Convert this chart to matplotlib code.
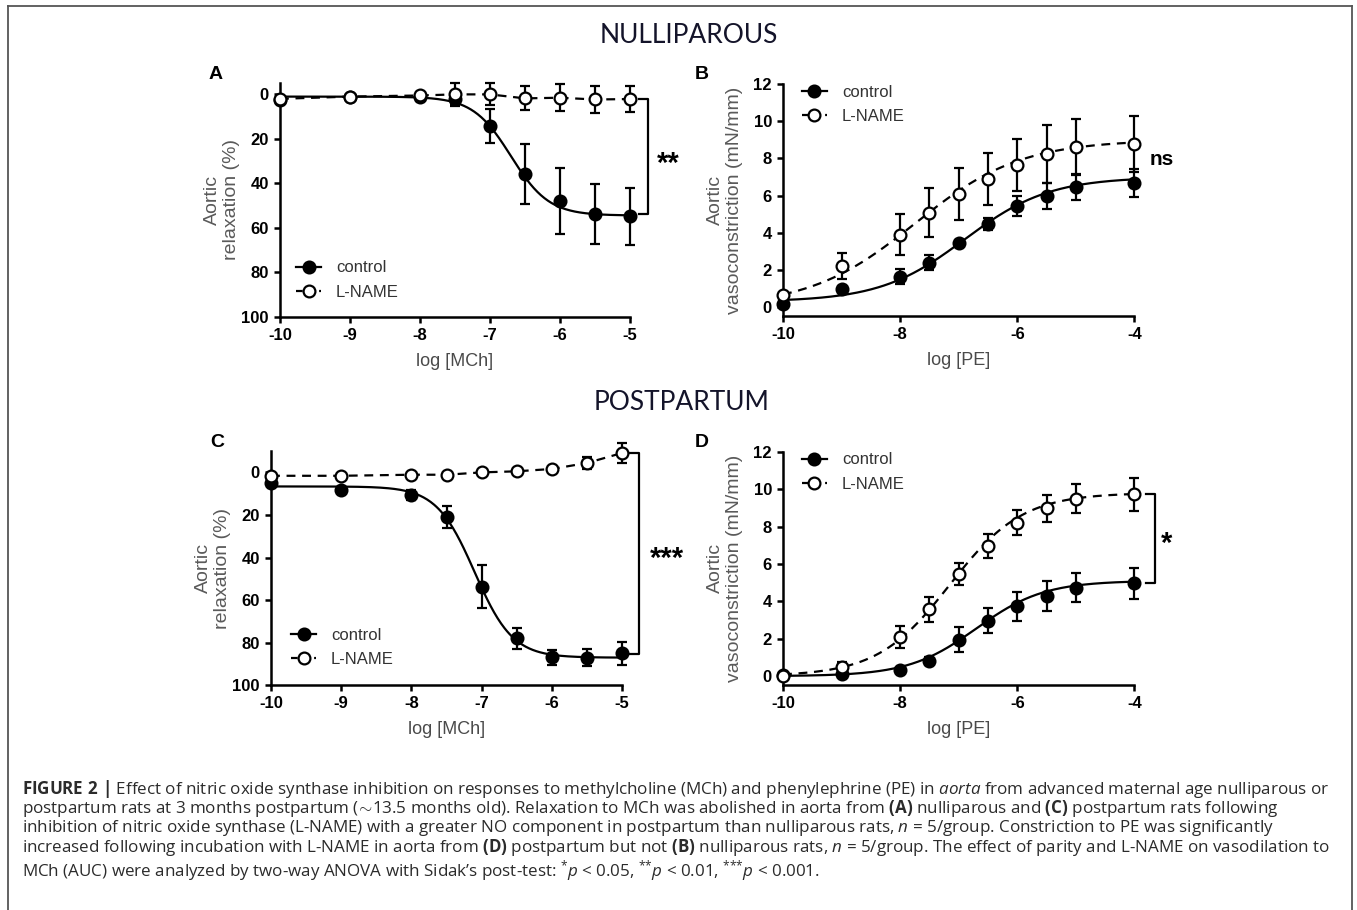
import matplotlib
matplotlib.use("Agg")
import matplotlib.pyplot as plt
import numpy as np
from matplotlib.lines import Line2D

plt.rcParams['font.family'] = ['Liberation Sans', 'DejaVu Sans']
plt.rcParams['mathtext.fontset'] = 'custom'
plt.rcParams['mathtext.rm'] = 'Open Sans'
plt.rcParams['mathtext.it'] = 'Open Sans:italic'
plt.rcParams['mathtext.bf'] = 'Open Sans:bold'
plt.rcParams['axes.unicode_minus'] = False

# log concentrations
mch_dose = [-10, -9, -8, -7.5, -7, -6.5, -6, -5.5, -5]
pe_dose = [-10, -9, -8, -7.5, -7, -6.5, -6, -5.5, -5, -4]

# A: nulliparous, MCh relaxation (%)
a_ctrl = [2.5, 1.0, 1.0, 2.3, 14.1, 35.9, 48.0, 53.8, 54.9]
a_ctrl_err = [0.5, 0.8, 2.0, 3.0, 7.7, 13.6, 14.7, 13.6, 12.8]
a_lname = [2.0, 1.0, 0.5, 0.0, 0.0, 1.8, 1.5, 2.3, 2.1]
a_lname_err = [0.5, 0.5, 1.0, 5.0, 5.0, 5.4, 6.0, 6.0, 6.0]

# B: nulliparous, PE constriction (mN/mm)
b_ctrl = [0.2, 0.97, 1.65, 2.4, 3.44, 4.48, 5.45, 6.0, 6.45, 6.7]
b_ctrl_err = [0.1, 0.2, 0.4, 0.4, 0.2, 0.3, 0.55, 0.7, 0.7, 0.75]
b_lname = [0.66, 2.22, 3.89, 5.09, 6.07, 6.9, 7.67, 8.24, 8.6, 8.76]
b_lname_err = [0.1, 0.7, 1.1, 1.3, 1.4, 1.4, 1.4, 1.55, 1.5, 1.5]

# C: postpartum, MCh relaxation (%)
c_ctrl = [5.0, 8.2, 10.5, 21.0, 53.6, 77.9, 86.8, 87.0, 85.0]
c_ctrl_err = [1.0, 1.0, 2.3, 5.0, 10.0, 5.0, 3.5, 4.0, 5.5]
c_lname = [1.6, 1.6, 1.1, 1.1, 0.0, -0.5, -1.6, -4.4, -9.1]
c_lname_err = [0.5, 0.5, 0.5, 0.5, 0.5, 0.5, 0.8, 2.8, 4.5]

# D: postpartum, PE constriction (mN/mm)
d_ctrl = [0.05, 0.09, 0.32, 0.82, 1.96, 2.96, 3.74, 4.28, 4.74, 4.96]
d_ctrl_err = [0.05, 0.05, 0.1, 0.2, 0.65, 0.67, 0.78, 0.8, 0.8, 0.84]
d_lname = [0.02, 0.5, 2.1, 3.57, 5.46, 6.95, 8.2, 8.97, 9.49, 9.72]
d_lname_err = [0.05, 0.25, 0.57, 0.67, 0.6, 0.65, 0.67, 0.74, 0.78, 0.87]

# sigmoid fit parameters (bottom, top, logEC50, hill)
a_ctrl_fit = (1.0, 54.5, -6.7, 1.6)
b_ctrl_fit = (0.3, 7.0, -6.9, 0.6)
b_lname_fit = (0.0, 9.0, -7.75, 0.48)
c_ctrl_fit = (6.6, 87.0, -7.1, 1.6)
d_ctrl_fit = (0.0, 5.1, -6.7, 0.75)
d_lname_fit = (0.0, 9.8, -7.15, 0.7)

caption = [
    r"$\mathbf{FIGURE\ 2\ |}$ Effect of nitric oxide synthase inhibition on responses to methylcholine (MCh) and phenylephrine (PE) in $\mathit{aorta}$ from advanced maternal age nulliparous or",
    r"postpartum rats at 3 months postpartum ($\!\sim\!$13.5 months old). Relaxation to MCh was abolished in aorta from $\mathbf{(A)}$ nulliparous and $\mathbf{(C)}$ postpartum rats following",
    r"inhibition of nitric oxide synthase (L-NAME) with a greater NO component in postpartum than nulliparous rats, $\mathit{n}$ = 5/group. Constriction to PE was significantly",
    r"increased following incubation with L-NAME in aorta from $\mathbf{(D)}$ postpartum but not $\mathbf{(B)}$ nulliparous rats, $\mathit{n}$ = 5/group. The effect of parity and L-NAME on vasodilation to",
    r"MCh (AUC) were analyzed by two-way ANOVA with Sidak’s post-test: $^{*}\mathit{p}$ < 0.05, $^{{*}{*}}\mathit{p}$ < 0.01, $^{{*}{*}{*}}\mathit{p}$ < 0.001.",
]


def sigmoid(x, p):
    bottom, top, logec50, hill = p
    return bottom + (top - bottom) / (1 + 10 ** ((logec50 - x) * hill))


def points(ax, x, y, err, filled):
    ax.errorbar(x, y, yerr=err, fmt='none', ecolor='black', elinewidth=1.6,
                capsize=3.6, capthick=1.6, zorder=3, clip_on=False)
    ax.plot(x, y, 'o', ms=8.5, mfc='black' if filled else 'white', mec='black',
            mew=1.6, zorder=4, clip_on=False)


def style_axis(ax, xticks, yticks, xlim, ylim, xlabel, ylabel):
    ax.set_xlim(xlim)
    ax.set_ylim(ylim)
    ax.set_xticks(xticks)
    ax.set_xticklabels([str(t) for t in xticks], fontweight='bold', fontsize=12)
    ax.set_yticks(yticks)
    ax.set_yticklabels([str(t) for t in yticks], fontweight='bold', fontsize=12)
    for s in ['top', 'right']:
        ax.spines[s].set_visible(False)
    for s in ['left', 'bottom']:
        ax.spines[s].set_linewidth(1.8)
    ax.tick_params(direction='out', length=4, width=1.8, pad=4)
    ax.set_xlabel(xlabel, fontsize=13, color='#4a4a4a')
    ax.set_ylabel(ylabel, fontsize=14, color='#5a5a5a', linespacing=1.15)
    ax.xaxis.set_label_coords(0.5, -0.19)
    ax.xaxis.label.set_va('center')
    ax.yaxis.set_label_coords(-0.165, 0.5)
    ax.yaxis.label.set_va('center')


def legend(ax, x, y):
    h = [Line2D([], [], color='black', lw=1.6, marker='o', ms=8.5, mfc='black', mew=1.6),
         Line2D([], [], color='black', lw=1.6, ls=(0, (3, 2.2)), marker='o', ms=8.5,
                mfc='white', mew=1.6)]
    lg = ax.legend(h, ['control', 'L-NAME'], loc='center left', bbox_to_anchor=(x, y),
                   frameon=False, fontsize=12, handlelength=1.5, handletextpad=0.9,
                   borderpad=0, borderaxespad=0, labelspacing=0.55)
    for t in lg.get_texts():
        t.set_color('#333333')


def bracket(ax, x, x_arm, y1, y2):
    ax.plot([x_arm, x, x, x_arm], [y1, y1, y2, y2], color='black', lw=1.6, clip_on=False)


fig = plt.figure(figsize=(13.57, 9.10), dpi=100)

ax_a = fig.add_axes([0.2063, 0.652, 0.2579, 0.2565])
ax_b = fig.add_axes([0.5770, 0.6527, 0.2590, 0.2549])
ax_c = fig.add_axes([0.1997, 0.2469, 0.2587, 0.2574])
ax_d = fig.add_axes([0.5770, 0.2473, 0.2590, 0.2563])

dash = (0, (4, 3))

# panel A
xs = np.linspace(-10, -5, 300)
ax_a.plot(xs, sigmoid(xs, a_ctrl_fit), color='black', lw=1.6, zorder=2, clip_on=False)
ax_a.plot(mch_dose, a_lname, color='black', lw=1.6, ls=dash, zorder=2, clip_on=False)
points(ax_a, mch_dose, a_ctrl, a_ctrl_err, True)
points(ax_a, mch_dose, a_lname, a_lname_err, False)
style_axis(ax_a, [-10, -9, -8, -7, -6, -5], [0, 20, 40, 60, 80, 100], (-10, -5), (100, -5),
           'log [MCh]', 'Aortic\nrelaxation (%)')
legend(ax_a, 0.046, 0.157)
bracket(ax_a, -4.74, -4.866, 2.25, 54.0)
ax_a.annotate('**', xy=(-4.45, 28), xytext=(0, -11), textcoords='offset points',
              ha='center', va='baseline', fontsize=21, fontweight='bold', annotation_clip=False)

# panel B
xs = np.linspace(-10, -4, 300)
ax_b.plot(xs, sigmoid(xs, b_ctrl_fit), color='black', lw=1.6, zorder=2, clip_on=False)
ax_b.plot(xs, sigmoid(xs, b_lname_fit), color='black', lw=1.6, ls=dash, zorder=2, clip_on=False)
points(ax_b, pe_dose, b_ctrl, b_ctrl_err, True)
points(ax_b, pe_dose, b_lname, b_lname_err, False)
style_axis(ax_b, [-10, -8, -6, -4], [0, 2, 4, 6, 8, 10, 12], (-10, -4), (-0.47, 12),
           'log [PE]', 'Aortic\nvasoconstriction (mN/mm)')
legend(ax_b, 0.054, 0.913)
ax_b.text(-3.53, 7.92, 'ns', ha='center', va='center', fontsize=15, fontweight='bold',
          clip_on=False)

# panel C
xs = np.linspace(-10, -5, 300)
ax_c.plot(xs, sigmoid(xs, c_ctrl_fit), color='black', lw=1.6, zorder=2, clip_on=False)
ax_c.plot(mch_dose, c_lname, color='black', lw=1.6, ls=dash, zorder=2, clip_on=False)
points(ax_c, mch_dose, c_ctrl, c_ctrl_err, True)
points(ax_c, mch_dose, c_lname, c_lname_err, False)
style_axis(ax_c, [-10, -9, -8, -7, -6, -5], [0, 20, 40, 60, 80, 100], (-10, -5), (100, -10),
           'log [MCh]', 'Aortic\nrelaxation (%)')
legend(ax_c, 0.057, 0.161)
bracket(ax_c, -4.76, -4.89, -9.1, 85.4)
ax_c.annotate('***', xy=(-4.36, 37.2), xytext=(0, -11), textcoords='offset points',
              ha='center', va='baseline', fontsize=21, fontweight='bold', annotation_clip=False)

# panel D
xs = np.linspace(-10, -4, 300)
ax_d.plot(xs, sigmoid(xs, d_ctrl_fit), color='black', lw=1.6, zorder=2, clip_on=False)
ax_d.plot(xs, sigmoid(xs, d_lname_fit), color='black', lw=1.6, ls=dash, zorder=2, clip_on=False)
points(ax_d, pe_dose, d_ctrl, d_ctrl_err, True)
points(ax_d, pe_dose, d_lname, d_lname_err, False)
style_axis(ax_d, [-10, -8, -6, -4], [0, 2, 4, 6, 8, 10, 12], (-10, -4), (-0.47, 12),
           'log [PE]', 'Aortic\nvasoconstriction (mN/mm)')
legend(ax_d, 0.054, 0.913)
bracket(ax_d, -3.65, -3.81, 9.73, 4.96)
ax_d.annotate('*', xy=(-3.46, 7.45), xytext=(0, -11), textcoords='offset points',
              ha='center', va='baseline', fontsize=21, fontweight='bold', annotation_clip=False)

# panel letters and group titles
W, H = 1357.0, 910.0
for letter, px, py in [('A', 216, 79), ('B', 701.5, 79), ('C', 217, 447), ('D', 701.5, 447)]:
    fig.text(px / W, 1 - py / H, letter, ha='center', va='baseline', fontsize=14,
             fontweight='bold')
fig.text(689 / W, 1 - 43.3 / H, 'NULLIPAROUS', family='Lato', fontsize=19, color='#14142a',
         ha='center', va='baseline')
fig.text(682 / W, 1 - 410 / H, 'POSTPARTUM', family='Lato', fontsize=19, color='#14142a',
         ha='center', va='baseline')

# caption, sized so the first line spans the frame width
cap_texts = []
for i, line in enumerate(caption):
    cap_texts.append(fig.text(21.7 / W, 1 - (789.5 + i * 19.2) / H, line, ha='left',
                              va='center', family='Open Sans', fontsize=11,
                              color='#2b2b2b'))
fig.canvas.draw()
w1 = cap_texts[0].get_window_extent().width
for t in cap_texts:
    t.set_fontsize(11 * 1304 / w1)

# nudge the last line down if its raised asterisks touch the line above
fig.canvas.draw()
gap = cap_texts[3].get_window_extent().y0 - cap_texts[4].get_window_extent().y1
if gap < 0:
    x0, y0 = cap_texts[4].get_position()
    cap_texts[4].set_position((x0, y0 - (min(-gap, 5) + 0.5) / H))

# outer frame
fc = '#555555'
fig.add_artist(Line2D([7.5 / W, 7.5 / W], [0, 1 - 6 / H], color=fc, lw=1.3))
fig.add_artist(Line2D([7.5 / W, 1352 / W], [1 - 6 / H, 1 - 6 / H], color=fc, lw=1.3))
fig.add_artist(Line2D([1352 / W, 1352 / W], [0, 1 - 6 / H], color=fc, lw=1.3))

fig.savefig('out.png', dpi=100, facecolor='white')
